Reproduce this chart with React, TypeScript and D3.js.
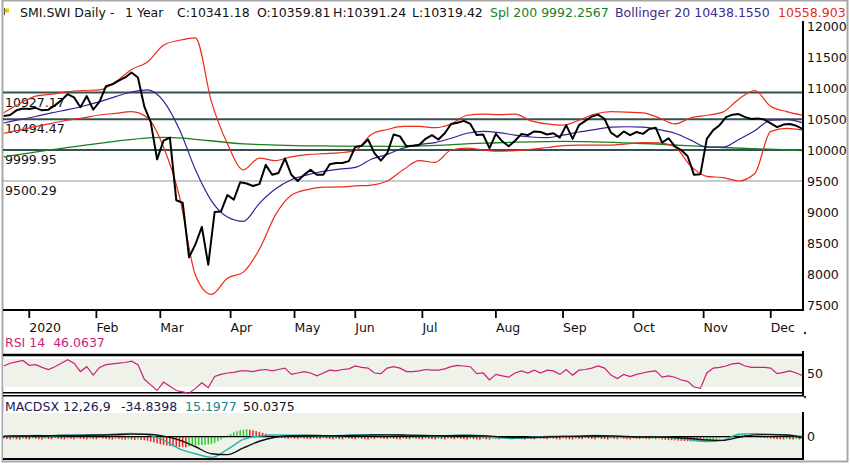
import React from "react";
import * as d3 from "d3";

// ---------- calendar ----------
const START_DATE = "2019-12-16";
const END_DATE = "2020-12-15";
const HOLIDAYS = [
  "2019-12-24", "2019-12-25", "2019-12-26", "2019-12-31", "2020-01-01", "2020-01-02",
  "2020-04-10", "2020-04-13", "2020-05-01", "2020-05-21", "2020-06-01",
];
const MONTH_LABELS = ["2020", "Feb", "Mar", "Apr", "May", "Jun", "Jul", "Aug", "Sep", "Oct", "Nov", "Dec"];

// ---------- header texts ----------
const HEADER_PARTS = [
  "SMI.SWI Daily -", "1 Year", "C:10341.18", "O:10359.81", "H:10391.24", "L:10319.42",
  "Spl 200 9992.2567", "Bollinger 20 10438.1550", "10558.903",
];
const HEADER_X = [20, 125, 177, 257, 333, 412, 490, 615, 778];
const HEADER_COLORS = ["#111", "#111", "#111", "#111", "#111", "#111", "#17801e", "#3a2a8c", "#e52a1e"];
const MACD_PARTS = ["MACDSX 12,26,9", "-34.8398", "15.1977", "50.0375"];
const MACD_PART_X = [5, 121, 185, 243];
const MACD_PART_COLORS = ["#1b1b4f", "#1b1b4f", "#17868a", "#111"];

// ---------- price (every 2nd trading day) ----------
const PRICE_STEP = 2;
const PRICE = [
  10550, 10565, 10640, 10670, 10660, 10680, 10640, 10650, 10720, 10800,
  10900, 10850, 10690, 10870, 10650, 10780, 11030, 11060, 11120, 11170,
  11250, 11170, 10700, 10450, 9850, 10150, 10200, 9190, 9150, 8270,
  8480, 8760, 8150, 9000, 9010, 9275, 9200, 9480, 9460, 9420,
  9450, 9760, 9600, 9630, 9865, 9600, 9500, 9600, 9680, 9600,
  9600, 9770, 9790, 9790, 9820, 10050, 10070, 10170, 9950, 9830,
  9950, 10250, 10220, 10060, 10070, 10080, 10180, 10240, 10170, 10270,
  10420, 10440, 10470, 10420, 10240, 10250, 10030, 10260, 10140, 10060,
  10150, 10260, 10240, 10300, 10290, 10250, 10270, 10200, 10400, 10180,
  10400, 10470, 10540, 10570, 10500, 10280, 10210, 10300, 10240, 10290,
  10260, 10340, 10360, 10120, 10190, 10060, 10000, 9900, 9600, 9610,
  10180, 10320, 10400, 10530, 10570, 10580, 10530, 10500, 10510, 10490,
  10430, 10370, 10410, 10420, 10390, 10341,
];

// ---------- Bollinger 20 and Spl 200 ----------
const BAND_STEP = 5;
const BB_UPPER = [
  10600, 10750, 10870, 10900, 10940, 10960, 10970, 11100, 11300, 11420,
  11690, 11770, 11810, 10780, 10100, 9680, 9870, 9830, 9890, 9925,
  9940, 9955, 9990, 10250, 10330, 10380, 10380, 10360, 10420, 10560,
  10580, 10570, 10580, 10470, 10420, 10400, 10480, 10580, 10620, 10610,
  10600, 10520, 10420, 10520, 10560, 10610, 10820, 10960, 10700, 10620,
  10560,
];
const BB_MID = [
  10435, 10490, 10540, 10600, 10650, 10710, 10780, 10860, 10935, 10970,
  10790, 10330, 9680, 9180, 8920, 8850, 9140, 9370, 9520, 9600,
  9655, 9690, 9720, 9850, 9930, 10030, 10090, 10120, 10190, 10270,
  10300, 10280, 10240, 10210, 10200, 10240, 10290, 10330, 10370, 10375,
  10370, 10330, 10270, 10160, 10045, 10045, 10170, 10310, 10480, 10490,
  10438,
];
const BB_LOWER = [
  10270, 10320, 10380, 10430, 10480, 10520, 10565, 10590, 10620, 10520,
  10050, 9250, 7980, 7670, 7930, 8030, 8400, 8950, 9270, 9360,
  9400, 9405, 9420, 9435, 9500, 9680, 9830, 9800, 10000, 10030,
  10000, 9980, 9990, 10010, 10040, 10070, 10080, 10080, 10080, 10100,
  10120, 10115, 10050, 9740, 9575, 9555, 9500, 9620, 10300, 10350,
  10320,
];
const SPL_STEP = 25;
const SPL200 = [9890, 10075, 10205, 10100, 10065, 10060, 10110, 10140, 10105, 10040, 9992];

const PRICE_TICKS = [12000, 11500, 11000, 10500, 10000, 9500, 9000, 8500, 8000, 7500];
const LEVEL_VALUES = [10927.17, 10494.47, 9999.95, 9500.29];
const LEVEL_LABELS = ["10927.17", "10494.47", "9999.95", "9500.29"];

// ---------- RSI 14 (every 2nd trading day) ----------
const RSI_STEP = 2;
const RSI = [
  60, 64, 66, 68, 61, 62, 58, 55, 59, 64,
  69, 64, 52, 59, 47, 58, 62, 63, 64, 65,
  67, 62, 41, 33, 25, 37, 31, 25, 23, 21,
  28, 36, 29, 45, 48, 50, 51, 53, 53, 52,
  54, 55, 53, 55, 57, 48, 50, 52, 50, 46,
  50, 54, 53, 55, 56, 60, 58, 57, 50, 49,
  57, 59, 57, 52, 52, 53, 55, 54, 54, 56,
  59, 61, 60, 59, 49, 50, 40, 48, 46, 44,
  50, 53, 50, 54, 50, 54, 53, 48, 55, 47,
  54, 55, 57, 60, 57, 47, 42, 48, 45, 48,
  50, 52, 53, 44, 46, 44, 40, 38, 30, 28,
  50, 57, 58, 60, 63, 64, 60, 58, 58, 58,
  57, 49, 51, 53, 50, 46,
];
const RSI_TICKS = [50];

// ---------- MACD 12,26,9 ----------
const MACD_STEP = 5;
const MACD = [
  20, 30, 40, 30, 50, 60, 60, 90, 110, 60,
  -110, -400, -560, -680, -420, -90, 20, 55, 50, 40,
  30, 40, 60, 70, 60, 50, 40, 30, 40, 50,
  20, -40, -50, -20, 10, 20, 20, 40, 20, -10,
  -20, -10, -40, -100, -160, -120, 80, 100, 80, 50,
  15,
];
const SIGNAL = [
  20, 25, 30, 35, 40, 45, 55, 65, 85, 80,
  20, -110, -330, -560, -590, -370, -150, -20, 30, 40,
  35, 35, 45, 55, 60, 55, 45, 35, 35, 40,
  30, 0, -30, -30, -10, 10, 15, 30, 25, 5,
  -10, -10, -25, -60, -110, -120, -20, 60, 70, 55,
  -35,
];
const HIST = [
  // Dec - early Mar
  -60, -75, -90, -70, -85, -95, -65, -80, -90, -55, -70, -85, -95, -60, -75, -85, -50, -65, -80, -90,
  -60, -70, -85, -55, -70, -80, -90, -65, -75, -85, -50, -60, -75, -85, -95, -70, -80, -90, -100, -80,
  -95, -110, -90, -105, -115,
  // March crash
  -130, -160, -190, -220, -250, -270, -290, -310, -320, -330, -340, -345, -350,
  -320, -300, -290, -280, -275, -265, -255, -240, -200, -150, -90, -30,
  40, 90, 140, 180, 210, 230, 245,
  230, 210, 185, 160, 130, 100, 75, 50, 30, 10,
  // May - Oct
  -40, -55, -70, -50, -65, -80, -45, -60, -75, -85, -55, -70, -80, -50, -60, -75, -90, -65, -80, -90,
  -50, -65, -75, -85, -60, -70, -85, -95, -70, -80, -45, -60, -70, -80, -55, -65, -80, -90, -60, -75,
  -85, -50, -65, -75, -90, -60, -70, -80, -95, -65, -80, -90, -55, -70, -85, -60, -75, -85, -95, -70,
  -80, -90, -100, -75, -85, -95, -60, -70, -85, -50, -65, -80, -90, -55, -70, -80, -95, -60, -75, -85,
  -45, -60, -70, -85, -55, -65, -80, -90, -60, -70, -85, -95, -65, -75, -85, -50, -60, -75, -90, -55,
  -70, -80, -95, -60, -70, -85, -50, -65, -80, -90, -60, -70, -80, -65, -75, -85, -70, -80,
  // late Oct - Dec
  -80, -90, -100, -110, -115, -120, -130, -135, -140, -145, -150, -155, -160, -165,
  -150, -130, -110, -90, -70, -50, -30, -10, 10, 30, 50, 70, 90,
  80, 60, 40, 20, 0, -20, -40, -50, -60, -70, -80, -85, -90, -70, -85, -95, -75, -90, -100,
];

const FONT = "'DejaVu Sans', Verdana, sans-serif";
const FS = 12.5;
const W = 850;
const H = 465;

function tradingDays(): Date[] {
  const parse = d3.utcParse("%Y-%m-%d");
  const fmt = d3.utcFormat("%Y-%m-%d");
  const s = parse(START_DATE) as Date;
  const e = parse(END_DATE) as Date;
  return d3.utcDay
    .range(s, d3.utcDay.offset(e, 1))
    .filter((d) => d.getUTCDay() !== 0 && d.getUTCDay() !== 6 && !HOLIDAYS.includes(fmt(d)));
}

export default function App() {
  const days = tradingDays();
  const x = d3.scaleLinear().domain([0, days.length - 1]).range([3.7, 802.7]);
  const yP = d3.scaleLinear().domain([7500, 12000]).range([305, 26]);
  const yR = d3.scaleLinear().domain([20, 80]).range([394, 352]);
  const yM = d3.scaleLinear().domain([-750, 780]).range([459.5, 413]);

  const monthIdx = MONTH_LABELS.map((_, m) =>
    days.findIndex((d) => d.getUTCFullYear() === 2020 && d.getUTCMonth() === m)
  );

  const mk = (step: number, y: (v: number) => number, curve = d3.curveLinear) =>
    d3
      .line<number>()
      .x((_, i) => x(i * step))
      .y((v) => y(v))
      .curve(curve);

  const left = 3;
  const right = 803;

  return (
    <svg
      width={W}
      height={H}
      style={{ position: "absolute", left: 0, top: 0, background: "#fff", fontFamily: FONT }}
    >
      <defs>
        <clipPath id="mainClip">
          <rect x={left} y={20} width={right - left} height={290} />
        </clipPath>
      </defs>
      <rect x={0} y={0} width={W} height={H} fill="#fff" />
      {/* outer frame */}
      <rect x={2.5} y={0.5} width={845} height={461} fill="none" stroke="#a8a8a8" strokeWidth={2} />

      {/* header */}
      <rect x={5} y={8.5} width={4} height={4} fill="#e8c800" />
      <line x1={4.5} y1={8} x2={4.5} y2={15} stroke="#555" strokeWidth={1} />
      {HEADER_PARTS.map((t, i) => (
        <text key={"hd" + i} x={HEADER_X[i]} y={17} fontSize={FS} fill={HEADER_COLORS[i]}>
          {t}
        </text>
      ))}

      {/* level lines */}
      {LEVEL_VALUES.map((v, i) => (
        <g key={"lvl" + i}>
          <line
            x1={left}
            x2={right}
            y1={yP(v)}
            y2={yP(v)}
            stroke={i < 3 ? "#34504f" : "#8c9a9a"}
            strokeWidth={i < 3 ? 2 : 1}
          />
          <text x={5} y={yP(v) + 14} fontSize={FS} fill="#111">
            {LEVEL_LABELS[i]}
          </text>
        </g>
      ))}

      {/* main plot */}
      <g clipPath="url(#mainClip)" fill="none">
        <path d={mk(SPL_STEP, yP, d3.curveMonotoneX)(SPL200) || ""} stroke="#17801e" strokeWidth={1.3} />
        <path d={mk(BAND_STEP, yP, d3.curveMonotoneX)(BB_UPPER) || ""} stroke="#ee2a1a" strokeWidth={1.2} />
        <path d={mk(BAND_STEP, yP, d3.curveMonotoneX)(BB_LOWER) || ""} stroke="#ee2a1a" strokeWidth={1.2} />
        <path d={mk(BAND_STEP, yP, d3.curveMonotoneX)(BB_MID) || ""} stroke="#3b1f96" strokeWidth={1.2} />
        <path d={mk(PRICE_STEP, yP)(PRICE) || ""} stroke="#000" strokeWidth={2} strokeLinejoin="round" />
      </g>

      {/* right price axis */}
      <line x1={right} x2={right} y1={21} y2={311} stroke="#000" strokeWidth={2} />
      {PRICE_TICKS.map((t) => (
        <text key={"pt" + t} x={807} y={yP(t)} dy="0.36em" fontSize={FS} fill="#111">
          {t}
        </text>
      ))}

      {/* x axis */}
      <line x1={left} x2={right} y1={310} y2={310} stroke="#000" strokeWidth={2} />
      {monthIdx.map((mi, k) => (
        <g key={"m" + k}>
          <line x1={x(mi)} x2={x(mi)} y1={311} y2={318} stroke="#000" strokeWidth={1.8} />
          <text x={x(mi)} y={331.5} fontSize={FS} fill="#111">
            {MONTH_LABELS[k]}
          </text>
        </g>
      ))}
      <circle cx={805} cy={333} r={1.2} fill="#333" />

      {/* RSI panel */}
      <text x={5} y={347} fontSize={FS} fill="#c8237e" xmlSpace="preserve">
        {"RSI 14  46.0637"}
      </text>
      <rect x={left} y={yR(70)} width={right - left} height={yR(30) - yR(70)} fill="#eef2e8" />
      <line x1={left} x2={right} y1={355} y2={355} stroke="#000" strokeWidth={2.5} />
      <line x1={left} x2={right} y1={392.7} y2={392.7} stroke="#000" strokeWidth={1.5} />
      <line x1={left} x2={right} y1={395.8} y2={395.8} stroke="#000" strokeWidth={1.5} />
      <line x1={right} x2={right} y1={351} y2={396.5} stroke="#000" strokeWidth={2} />
      <circle cx={805} cy={397} r={1.2} fill="#333" />
      <path d={mk(RSI_STEP, yR)(RSI) || ""} fill="none" stroke="#cc1f7a" strokeWidth={1.2} />
      {RSI_TICKS.map((t) => (
        <text key={"rt" + t} x={807} y={yR(t)} dy="0.36em" fontSize={FS} fill="#111">
          {t}
        </text>
      ))}

      {/* MACD panel */}
      {MACD_PARTS.map((t, i) => (
        <text key={"mp" + i} x={MACD_PART_X[i]} y={411} fontSize={FS} fill={MACD_PART_COLORS[i]}>
          {t}
        </text>
      ))}
      <rect x={left} y={413} width={right - left} height={45.5} fill="#eef2e8" />
      <g>
        {HIST.map((v, i) => {
          const up = i > 0 && v >= HIST[i - 1];
          const y0 = yM(0);
          const y1 = yM(v);
          return (
            <rect
              key={"h" + i}
              x={x(i) - 0.75}
              y={Math.min(y0, y1)}
              width={1.5}
              height={Math.max(0.8, Math.abs(y1 - y0))}
              fill={up ? "#2ccc2c" : "#ee2222"}
            />
          );
        })}
      </g>
      <line x1={left} x2={right} y1={yM(0)} y2={yM(0)} stroke="#000" strokeWidth={1.3} />
      <path d={mk(MACD_STEP, yM, d3.curveMonotoneX)(MACD) || ""} fill="none" stroke="#22b5b5" strokeWidth={1.4} />
      <path d={mk(MACD_STEP, yM, d3.curveMonotoneX)(SIGNAL) || ""} fill="none" stroke="#111" strokeWidth={1.4} />
      <line x1={left} x2={right} y1={459} y2={459} stroke="#000" strokeWidth={2} />
      <line x1={right} x2={right} y1={412} y2={460} stroke="#000" strokeWidth={2} />
      <text x={807} y={yM(0)} dy="0.36em" fontSize={FS} fill="#111">
        0
      </text>
    </svg>
  );
}
